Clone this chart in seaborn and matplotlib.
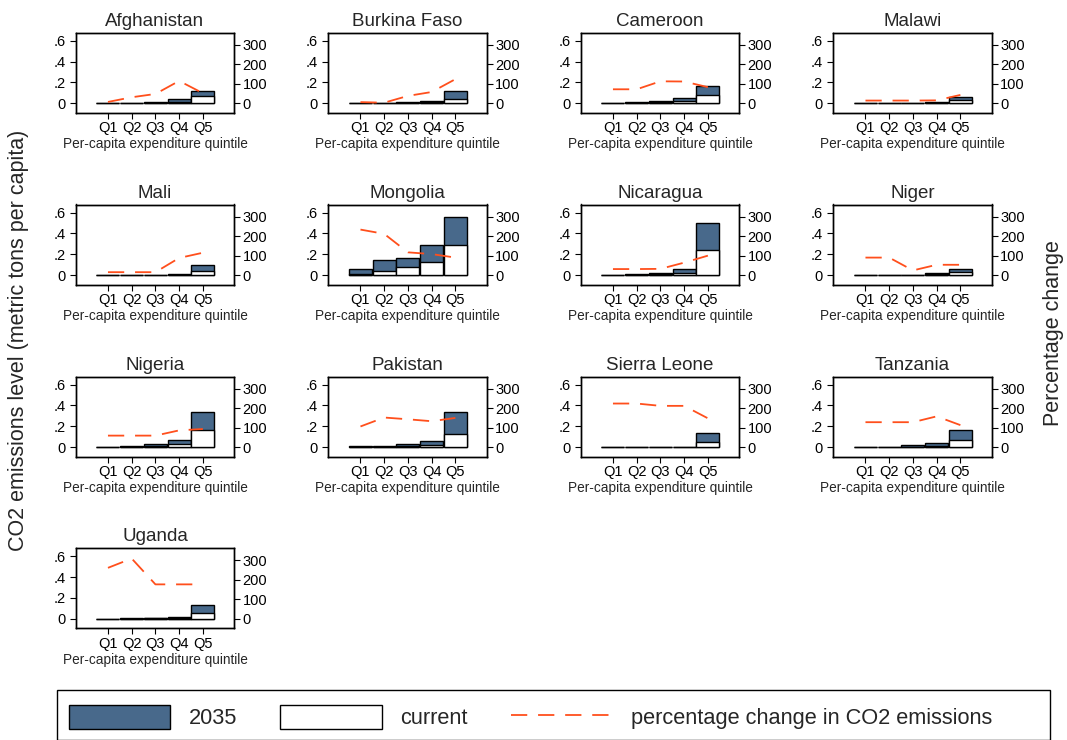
import numpy as np
import pandas as pd
import matplotlib
matplotlib.use("Agg")
import matplotlib.pyplot as plt
from matplotlib.patches import Patch, Rectangle
from matplotlib.lines import Line2D
import seaborn as sns

# ---- data -----------------------------------------------------------------
countries = ["Afghanistan", "Burkina Faso", "Cameroon", "Malawi",
             "Mali", "Mongolia", "Nicaragua", "Niger",
             "Nigeria", "Pakistan", "Sierra Leone", "Tanzania",
             "Uganda"]
quintiles = ["Q1", "Q2", "Q3", "Q4", "Q5"]

# CO2 emissions per capita (metric tons), current level by quintile
current_level = [
    [0.001, 0.002, 0.004, 0.016, 0.074],
    [0.001, 0.002, 0.004, 0.008, 0.045],
    [0.002, 0.004, 0.008, 0.019, 0.083],
    [0.001, 0.001, 0.002, 0.004, 0.032],
    [0.001, 0.002, 0.003, 0.006, 0.036],
    [0.013, 0.036, 0.075, 0.130, 0.285],
    [0.002, 0.004, 0.008, 0.023, 0.243],
    [0.001, 0.001, 0.002, 0.008, 0.030],
    [0.003, 0.006, 0.010, 0.030, 0.165],
    [0.003, 0.006, 0.012, 0.023, 0.130],
    [0.001, 0.001, 0.002, 0.003, 0.049],
    [0.001, 0.002, 0.006, 0.013, 0.068],
    [0.001, 0.002, 0.004, 0.006, 0.057],
]

# CO2 emissions per capita (metric tons), projected 2035 level by quintile
level_2035 = [
    [0.002, 0.004, 0.008, 0.042, 0.118],
    [0.002, 0.004, 0.010, 0.022, 0.118],
    [0.004, 0.010, 0.020, 0.048, 0.163],
    [0.002, 0.003, 0.004, 0.008, 0.058],
    [0.002, 0.004, 0.005, 0.013, 0.094],
    [0.058, 0.149, 0.169, 0.285, 0.554],
    [0.006, 0.010, 0.018, 0.058, 0.499],
    [0.002, 0.002, 0.004, 0.016, 0.062],
    [0.006, 0.014, 0.026, 0.071, 0.340],
    [0.008, 0.014, 0.029, 0.062, 0.340],
    [0.002, 0.003, 0.004, 0.006, 0.136],
    [0.004, 0.006, 0.016, 0.039, 0.162],
    [0.002, 0.004, 0.008, 0.015, 0.133],
]

# Percentage change in CO2 emissions by quintile
pct_change = [
    [7, 31, 48, 115, 52],
    [6, 3, 38, 58, 124],
    [72, 72, 113, 112, 83],
    [14, 14, 14, 15, 43],
    [15, 15, 15, 88, 115],
    [234, 212, 117, 108, 90],
    [31, 31, 32, 64, 100],
    [90, 90, 24, 53, 53],
    [59, 59, 59, 86, 93],
    [106, 152, 143, 133, 150],
    [224, 224, 212, 212, 148],
    [128, 128, 128, 158, 113],
    [262, 310, 177, 177, 177],
]

# ---- style ----------------------------------------------------------------
sns.set_style("ticks")
plt.rcParams["font.family"] = ["Liberation Sans", "DejaVu Sans"]
plt.rcParams["axes.linewidth"] = 1.0
plt.rcParams["xtick.major.size"] = 4
plt.rcParams["ytick.major.size"] = 4
plt.rcParams["xtick.color"] = "black"
plt.rcParams["ytick.color"] = "black"
plt.rcParams["axes.edgecolor"] = "black"

BAR_2035 = "#48698b"
LINE_COL = "#ff4f1c"
DASH = (0, (9, 6))

W, H = 1067, 740
fig = plt.figure(figsize=(W / 100, H / 100), dpi=100)

ax_w, ax_h = 158.5, 80.0
col_left = [75.7, 328.2, 580.7, 833.2]
row_top = [32.7, 204.5, 376.5, 548.2]

for i, name in enumerate(countries):
    r, c = divmod(i, 4)
    left = col_left[c] / W
    bottom = 1 - (row_top[r] + ax_h) / H
    ax = fig.add_axes([left, bottom, ax_w / W, ax_h / H])

    df = pd.DataFrame({
        "quintile": quintiles,
        "current": current_level[i],
        "y2035": level_2035[i],
        "pct": pct_change[i],
        "pos": np.arange(len(quintiles)),
    })

    sns.barplot(data=df, x="quintile", y="y2035", order=quintiles,
                color=BAR_2035, saturation=1, edgecolor="black",
                linewidth=1.0, width=0.97, errorbar=None, ax=ax)
    sns.barplot(data=df, x="quintile", y="current", order=quintiles,
                color="white", saturation=1, edgecolor="black",
                linewidth=1.0, width=0.97, errorbar=None, ax=ax)

    ax.set_xlim(-1.36, 5.32)
    ax.set_ylim(-0.09, 0.678)
    ax.set_yticks([0, 0.2, 0.4, 0.6])
    ax.set_yticklabels(["0", ".2", ".4", ".6"], fontsize=10.5)
    ax.tick_params(axis="x", labelsize=10.5, pad=2)
    ax.set_xlabel("Per-capita expenditure quintile", fontsize=9.8, labelpad=1.5)
    ax.set_ylabel("")
    ax.set_title(name, fontsize=13.5, pad=5)
    for sp in ax.spines.values():
        sp.set_visible(True)

    ax2 = ax.twinx()
    sns.lineplot(data=df, x="pos", y="pct", color=LINE_COL,
                 linewidth=1.3, linestyle=DASH, ax=ax2)
    ax2.set_ylim(-48.4, 363)
    ax2.set_yticks([0, 100, 200, 300])
    ax2.tick_params(axis="y", labelsize=10.5, pad=2)
    ax2.set_ylabel("")
    ax2.set_xlabel("")
    ax.set_xlim(-1.36, 5.32)

# side titles
fig.text(19 / W, 1 - 340 / H, "CO2 emissions level (metric tons per capita)",
         rotation=90, ha="center", va="center", fontsize=15.5)
fig.text(1054 / W, 1 - 333 / H, "Percentage change",
         rotation=90, ha="center", va="center", fontsize=15.5)

# legend with its own frame
fig.patches.append(Rectangle((57 / W, 1 - 739.5 / H), (1050 - 57) / W, 49.5 / H,
                             transform=fig.transFigure, facecolor="white",
                             edgecolor="black", linewidth=1.0, zorder=0))
handles = [
    Patch(facecolor=BAR_2035, edgecolor="black", linewidth=1.0, label="2035"),
    Patch(facecolor="white", edgecolor="black", linewidth=1.0, label="current"),
    Line2D([], [], color=LINE_COL, linewidth=1.3, linestyle=DASH,
           label="percentage change in CO2 emissions"),
]
fig.legend(handles=handles, ncol=3, frameon=False, fontsize=15.7,
           loc="center left", bbox_to_anchor=(60 / W, 1 - 717 / H),
           handlelength=4.65, handleheight=1.3, handletextpad=0.84,
           columnspacing=2.0, borderaxespad=0)

fig.savefig("out.png", dpi=100)
